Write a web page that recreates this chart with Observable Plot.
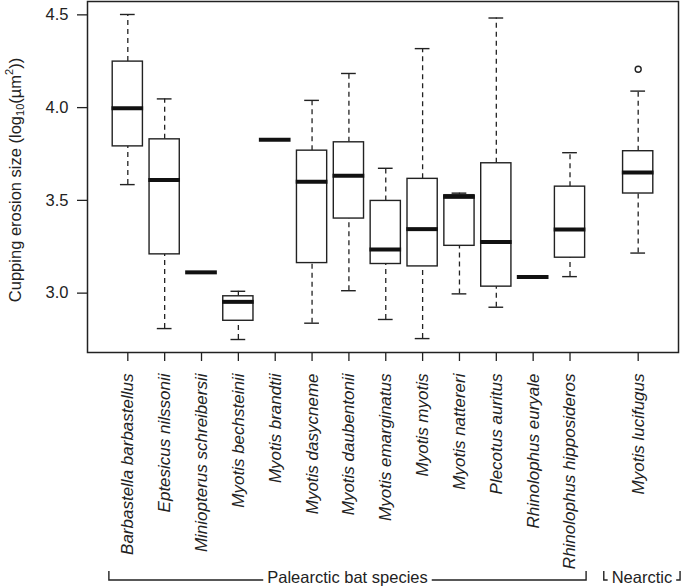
<!DOCTYPE html>
<html><head><meta charset="utf-8">
<script src="https://cdn.jsdelivr.net/npm/d3@7"></script>
<script src="https://cdn.jsdelivr.net/npm/@observablehq/plot@0.6"></script>
<style>
body{margin:0;background:#fff;}
#chart svg{font-family:"Liberation Sans",Arial,sans-serif;}
</style></head><body><div id="chart"></div>
<script>
// ---- data ----
const species = ["Barbastella barbastellus","Eptesicus nilssonii","Miniopterus schreibersii","Myotis bechsteinii","Myotis brandtii","Myotis dasycneme","Myotis daubentonii","Myotis emarginatus","Myotis myotis","Myotis nattereri","Plecotus auritus","Rhinolophus euryale","Rhinolophus hipposideros","Myotis lucifugus"];
const positions   = [1,2,3,4,5,6,7,8,9,10,11,12,13,14.85];
const whiskerLow  = [3.585,2.809,3.112,2.750,3.827,2.838,3.013,2.858,2.755,2.996,2.924,3.087,3.089,3.216];
const q1          = [3.791,3.209,3.112,2.851,3.827,3.162,3.402,3.157,3.144,3.255,3.035,3.087,3.191,3.537];
const median      = [3.996,3.610,3.112,2.953,3.827,3.601,3.633,3.235,3.345,3.519,3.275,3.087,3.343,3.650];
const q3          = [4.248,3.829,3.112,2.983,3.827,3.768,3.813,3.497,3.616,3.528,3.700,3.087,3.574,3.765];
const whiskerHigh = [4.502,4.047,3.112,3.010,3.827,4.039,4.184,3.673,4.318,3.539,4.483,3.087,3.757,4.089];
const outlierSpecies = ["Myotis lucifugus"];
const outlierValues  = [4.207];
const yTicks = [3.0,3.5,4.0,4.5];
const groupNames = ["Palearctic bat species","Nearctic"];
const groupStart = [0.5,13.93];
const groupEnd   = [13.45,16.0];
const yLabel = ["Cupping erosion size (log", "10", "(µm", "2", "))"];

// ---- build table ----
const stats = species.map((s,i)=>({species:s,pos:positions[i],lo:whiskerLow[i],q1:q1[i],med:median[i],q3:q3[i],hi:whiskerHigh[i]}));
const outliers = outlierSpecies.map((s,i)=>({pos:positions[species.indexOf(s)],v:outlierValues[i]}));

const ink = "#222";
const boxHalf = 0.41, capHalf = 0.2, medHalf = 0.43;

const plot = Plot.plot({
  width: 685, height: 587,
  marginLeft: 87, marginRight: 7, marginTop: 1, marginBottom: 235,
  style: {fontSize: "16.5px", color: ink, background: "#fff"},
  x: {type: "linear", domain: [-0.094, 15.944]},
  y: {domain: [2.68, 4.572]},
  marks: [
    Plot.ruleX(stats, {x:"pos", y1:"lo", y2:"q1", stroke: ink, strokeWidth: 1.3, strokeDasharray: "5,4"}),
    Plot.ruleX(stats, {x:"pos", y1:"q3", y2:"hi", stroke: ink, strokeWidth: 1.3, strokeDasharray: "5,4"}),
    Plot.ruleY(stats, {y:"lo", x1: d=>d.pos-capHalf, x2: d=>d.pos+capHalf, stroke: ink, strokeWidth: 1.4}),
    Plot.ruleY(stats, {y:"hi", x1: d=>d.pos-capHalf, x2: d=>d.pos+capHalf, stroke: ink, strokeWidth: 1.4}),
    Plot.rect(stats, {x1: d=>d.pos-boxHalf, x2: d=>d.pos+boxHalf, y1:"q1", y2:"q3", fill:"#fff", stroke: ink, strokeWidth: 1.4}),
    Plot.ruleY(stats, {y:"med", x1: d=>d.pos-medHalf, x2: d=>d.pos+medHalf, stroke: "#111", strokeWidth: 4}),
    Plot.dot(outliers, {x:"pos", y:"v", r: 3, stroke: ink, strokeWidth: 1.4, fill: "none"}),
    Plot.frame({stroke: ink, strokeWidth: 1.5}),
    Plot.axisY({ticks: yTicks, tickFormat: d3.format(".1f"), tickSize: 10, tickPadding: 9, label: null, stroke: ink, strokeWidth: 1.3, fontSize: 16.5}),
    Plot.axisX({ticks: positions, tickFormat: d => species[positions.indexOf(d)], tickRotate: -90, tickSize: 9, tickPadding: 12, label: null, fontStyle: "italic", fontSize: 17, stroke: ink, strokeWidth: 1.3})
  ]
});
document.getElementById("chart").appendChild(plot);

// ---- y axis title with sub/superscript ----
const svg = d3.select(plot);
const t = svg.append("text")
  .attr("transform", "translate(17,180) rotate(-90)")
  .attr("text-anchor", "middle").attr("dominant-baseline", "middle")
  .attr("fill", ink).style("font-size", "16.5px");
t.append("tspan").text(yLabel[0]);
t.append("tspan").attr("dy", "4").style("font-size", "11px").text(yLabel[1]);
t.append("tspan").attr("dy", "-4").text(yLabel[2]);
t.append("tspan").attr("dy", "-7").style("font-size", "11px").text(yLabel[3]);
t.append("tspan").attr("dy", "7").text(yLabel[4]);

// ---- group brackets below the axis ----
const xs = plot.scale("x");
const yLine = 580, yTop = 571;
groupNames.forEach((name,i) => {
  const a = xs.apply(groupStart[i]), b = xs.apply(groupEnd[i]), c = (a+b)/2;
  const txt = svg.append("text").attr("x", c).attr("y", yLine - 1).attr("text-anchor","middle")
    .attr("dominant-baseline","middle").attr("fill", ink).style("font-size","16.5px").text(name);
  const w = txt.node().getComputedTextLength() + 8;
  const g = svg.append("g").attr("stroke", ink).attr("stroke-width", 1.4).attr("fill","none");
  g.append("path").attr("d", `M${a},${yTop}V${yLine}H${c - w/2}`);
  g.append("path").attr("d", `M${b},${yTop}V${yLine}H${c + w/2}`);
});
</script></body></html>
